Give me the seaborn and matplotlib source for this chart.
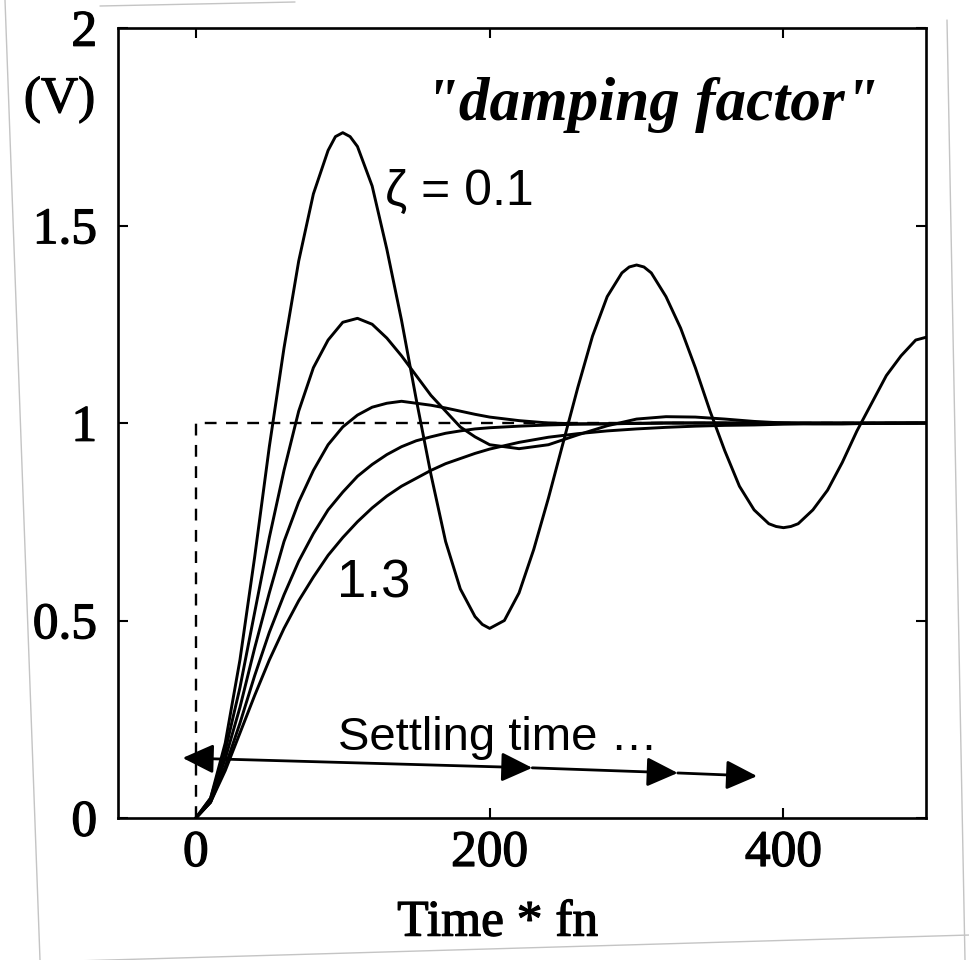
import matplotlib
matplotlib.use("Agg")
import matplotlib.pyplot as plt
from matplotlib.lines import Line2D
import matplotlib.patheffects as pe
import numpy as np
import pandas as pd
import seaborn as sns

# ---------------- data ----------------
zeta_labels = ["0.1", "0.4", "0.7", "1.0", "1.3"]

# zeta = 0.1 (extra readings around each extremum)
t_01 = [0, 10, 20, 30, 40, 50, 60, 70, 80, 90, 95, 100, 105,
        110, 120, 130, 140, 150, 160, 170, 180, 190, 195, 200, 205,
        210, 220, 230, 240, 250, 260, 270, 280, 290, 295, 300, 305,
        310, 320, 330, 340, 350, 360, 370, 380, 390, 395, 400, 405,
        410, 420, 430, 440, 450, 460, 470, 480, 490, 500]
v_01 = [0.00, 0.05, 0.19, 0.40, 0.66, 0.94, 1.19, 1.41, 1.58, 1.69, 1.725, 1.735, 1.725,
        1.70, 1.60, 1.44, 1.26, 1.06, 0.87, 0.70, 0.58, 0.51, 0.49, 0.48, 0.49,
        0.50, 0.57, 0.68, 0.81, 0.95, 1.09, 1.22, 1.32, 1.38, 1.395, 1.40, 1.395,
        1.38, 1.32, 1.24, 1.14, 1.03, 0.93, 0.84, 0.78, 0.745, 0.738, 0.735, 0.738,
        0.745, 0.78, 0.83, 0.90, 0.98, 1.05, 1.12, 1.17, 1.21, 1.22]

# other curves: every 10 up to 200, then every 20
t_rest = list(range(0, 201, 10)) + list(range(220, 501, 20))
v_04 = [0.00, 0.05, 0.17, 0.33, 0.52, 0.71, 0.88, 1.03, 1.14, 1.21,
        1.255, 1.265, 1.25, 1.215, 1.17, 1.12, 1.07, 1.03, 0.99, 0.965,
        0.945,
        0.935, 0.945, 0.97, 0.993, 1.01, 1.016, 1.015, 1.01, 1.004, 1.0,
        0.998, 0.998, 0.999, 1.0, 1.0]
v_07 = [0.00, 0.04, 0.15, 0.28, 0.43, 0.57, 0.70, 0.80, 0.88, 0.945,
        0.99, 1.02, 1.04, 1.05, 1.055, 1.05, 1.045, 1.038, 1.03, 1.022,
        1.015,
        1.006, 1.0, 0.998, 0.998, 0.999, 1.0, 1.0, 1.0, 1.0, 1.0,
        1.0, 1.0, 1.0, 1.0, 1.0]
v_10 = [0.00, 0.04, 0.13, 0.24, 0.36, 0.47, 0.565, 0.65, 0.72, 0.78,
        0.825, 0.865, 0.895, 0.92, 0.94, 0.955, 0.965, 0.974, 0.98, 0.985,
        0.988,
        0.992, 0.995, 0.997, 0.998, 0.999, 1.0, 1.0, 1.0, 1.0, 1.0,
        1.0, 1.0, 1.0, 1.0, 1.0]
v_13 = [0.00, 0.04, 0.12, 0.215, 0.31, 0.40, 0.48, 0.55, 0.61, 0.665,
        0.71, 0.75, 0.785, 0.815, 0.84, 0.86, 0.88, 0.897, 0.91, 0.923,
        0.934,
        0.951, 0.964, 0.973, 0.98, 0.985, 0.989, 0.992, 0.994, 0.995, 0.997,
        0.998, 0.998, 0.999, 0.999, 1.0]

# input step (dashed)
step_t = [0, 0, 497]
step_v = [0.0, 1.0, 1.0]

# settling-time arrow chain
arrow_t = [-9, 229, 328, 382]
arrow_v = [0.152, 0.127, 0.114, 0.106]

x_ticks = [0, 200, 400]
y_ticks = [0, 0.5, 1, 1.5, 2]
y_tick_labels = ["0", "0.5", "1", "1.5", "2"]

# ---------------- build long-form table ----------------
series = [(t_01, v_01), (t_rest, v_04), (t_rest, v_07), (t_rest, v_10), (t_rest, v_13)]
frames = []
for z, (tt, vv) in zip(zeta_labels, series):
    frames.append(pd.DataFrame({"t": tt, "v": vv, "zeta": z}))
df = pd.concat(frames, ignore_index=True)

# ---------------- style ----------------
sns.set_theme(style="ticks")
plt.rcParams["font.family"] = ["Liberation Serif", "DejaVu Serif"]
plt.rcParams.update({"text.color": "black", "axes.labelcolor": "black",
                     "xtick.color": "black", "ytick.color": "black",
                     "axes.edgecolor": "black"})

ink = [pe.withStroke(linewidth=0.9, foreground="black")]

fig = plt.figure(figsize=(9.7, 9.6), dpi=100)
ax = fig.add_axes([118 / 970, 1 - 818 / 960, (926 - 118) / 970, (818 - 28) / 960])

sns.lineplot(data=df, x="t", y="v", units="zeta", estimator=None,
             color="black", linewidth=2.1, ax=ax, legend=False)
for ln in ax.lines:
    ln.set_solid_joinstyle("round")

ax.plot(step_t, step_v, color="black", linewidth=1.7, linestyle=(0, (5, 4)))

ax.set_xlim(-53, 497)
ax.set_ylim(0, 2)
ax.set_xticks(x_ticks)
ax.set_xticklabels([str(v) for v in x_ticks])
ax.set_yticks(y_ticks)
ax.set_yticklabels(y_tick_labels)
ax.tick_params(axis="both", direction="in", length=7, width=1.5,
               top=True, right=True, labelsize=37, colors="black")
ax.tick_params(axis="x", pad=9)
ax.tick_params(axis="y", pad=15)
for lab in ax.get_xticklabels() + ax.get_yticklabels():
    lab.set_path_effects(ink)
for sp in ax.spines.values():
    sp.set_linewidth(1.9)
    sp.set_color("black")

ax.set_ylabel("")
ax.set_xlabel("Time * fn", fontsize=37, va="top", path_effects=ink)
ax.xaxis.set_label_coords(0.470, -0.104)

ax.text(-0.028, 0.909, "(V)", transform=ax.transAxes, ha="right", va="center",
        fontsize=37, path_effects=ink)

ax.text(310.6, 1.805, "\"damping factor\"", ha="center", va="center",
        fontsize=44, style="italic", fontweight="bold")

sans = ["Liberation Sans", "DejaVu Sans"]
ax.text(128.7, 1.552, "\u03b6 = 0.1", ha="left", va="baseline", fontsize=36,
        family=sans)
ax.text(96, 0.559, "1.3", ha="left", va="baseline", fontsize=38, family=sans)
ax.text(96.7, 0.172, "Settling time \u2026", ha="left", va="baseline",
        fontsize=34, family=sans)

arrow_kw = dict(color="black", lw=2.0, shrinkA=0, shrinkB=0, mutation_scale=20)
ax.annotate("", xy=(arrow_t[1], arrow_v[1]), xytext=(arrow_t[0], arrow_v[0]),
            arrowprops=dict(arrowstyle="<|-|>,head_length=0.95,head_width=0.45", **arrow_kw))
for i in (1, 2):
    ax.annotate("", xy=(arrow_t[i + 1], arrow_v[i + 1]), xytext=(arrow_t[i], arrow_v[i]),
                arrowprops=dict(arrowstyle="-|>,head_length=0.95,head_width=0.45", **arrow_kw))

# faint scanned-page edges
edge_kw = dict(color="#c4c4c4", linewidth=1.0, transform=fig.transFigure)
fig.add_artist(Line2D([5 / 970, 40 / 970], [1.0, 0.0], **edge_kw))
fig.add_artist(Line2D([40 / 970, 1.0], [1 - 962 / 960, 1 - 935 / 960], **edge_kw))
fig.add_artist(Line2D([947 / 970, 965 / 970], [1 - 20 / 960, 0.0], **edge_kw))
fig.add_artist(Line2D([100 / 970, 295 / 970], [1 - 6 / 960, 1 - 2 / 960], **edge_kw))

fig.savefig("out.png", dpi=100, facecolor="white")
